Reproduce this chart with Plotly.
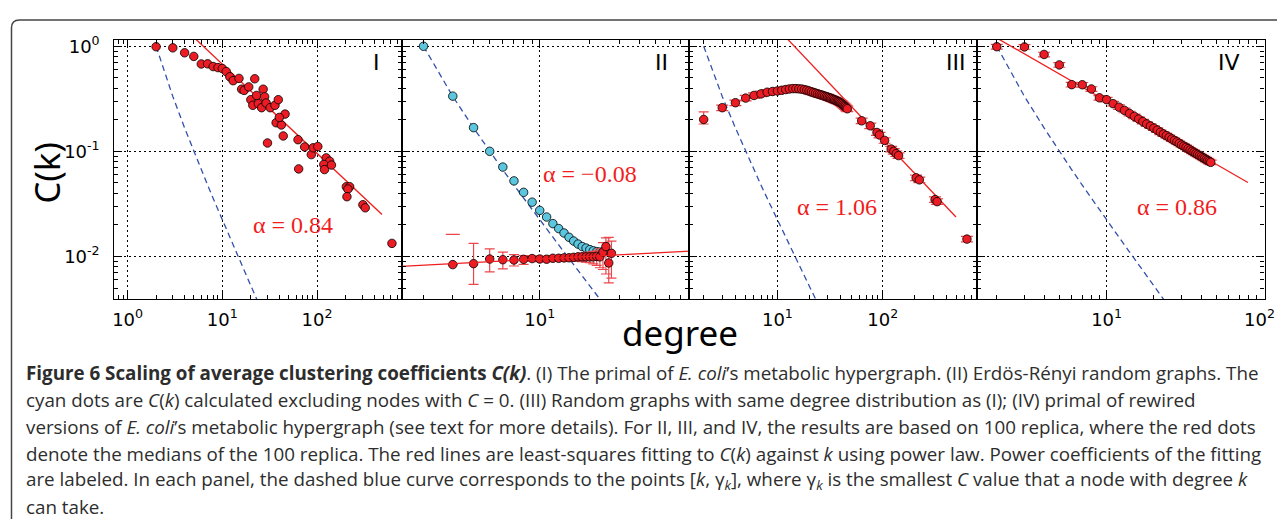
import plotly.graph_objects as go

# target picture size and the page's default body margin
W_PAGE, H_PAGE = 1285, 527
OFF = 8
W, H = W_PAGE - 2 * OFF, H_PAGE - 2 * OFF

# ---------------- data ----------------
# dashed blue curve [k, gamma_k]
gamma_k = [2, 3, 4, 5, 6, 7, 8, 10, 12, 14, 17, 20, 23, 25]
gamma_C = [1.0, 0.333, 0.167, 0.10, 0.0667, 0.0476, 0.0357, 0.0222, 0.0152, 0.011, 0.00735, 0.00526, 0.00395, 0.0033]

# Panel I : primal of E. coli metabolic hypergraph
k1 = [2, 3, 4, 5, 6, 7, 8, 9, 10, 11, 12, 13, 15, 22, 16, 17, 19, 20, 21, 23, 24, 26, 27, 28, 29,
      32, 36, 39, 37, 42, 46, 40, 44, 30, 63, 74, 87, 91, 102, 64, 125, 136, 118, 120, 142,
      204, 221, 212, 207, 305, 323, 618]
C1 = [0.99, 0.965, 0.866, 0.80, 0.678, 0.68, 0.64, 0.626, 0.613, 0.574, 0.512, 0.47, 0.494, 0.49,
      0.39, 0.38, 0.41, 0.31, 0.274, 0.34, 0.284, 0.26, 0.39, 0.33, 0.288, 0.26, 0.274, 0.31,
      0.187, 0.178, 0.226, 0.21, 0.14, 0.12, 0.129, 0.11, 0.093, 0.108, 0.111, 0.068, 0.0866,
      0.0805, 0.075, 0.067, 0.074, 0.046, 0.046, 0.0437, 0.037, 0.031, 0.029, 0.0133]
fit1_k = [4, 485]
fit1_C = [1.47, 0.025]

# Panel II : Erdos-Renyi random graphs
k2c = [2, 3, 4, 5, 6, 7, 8, 9, 10, 11, 12, 13, 14, 15, 16, 17, 18, 19, 20, 21, 22, 23, 24, 25]
C2c = [1.0, 0.335, 0.168, 0.10, 0.0708, 0.0523, 0.0407, 0.0328, 0.0274, 0.0237, 0.0205, 0.0184,
       0.0167, 0.0152, 0.0140, 0.0131, 0.0124, 0.0120, 0.0116, 0.0113, 0.0111, 0.0110, 0.0110, 0.0112]
k2r = [3, 4, 5, 6, 7, 8, 9, 10, 11, 12, 13, 14, 15, 16, 17, 18, 19, 20, 21, 22, 23, 24, 25, 26, 27]
C2r = [0.00835, 0.00853, 0.00944, 0.0093, 0.00924, 0.00938, 0.00953, 0.00944, 0.0094, 0.0096,
       0.0096, 0.00968, 0.0097, 0.0098, 0.0099, 0.0099, 0.0099, 0.0099, 0.0099, 0.0100, 0.0099,
       0.0110, 0.0124, 0.00866, 0.0107]
C2r_hi = [0.00835, 0.0133, 0.0118, 0.0110, 0.0104, 0.0102, 0.0101, 0.0100, 0.0100, 0.0102,
          0.0102, 0.0103, 0.0103, 0.0104, 0.0106, 0.0107, 0.0108, 0.0110, 0.0111, 0.0113, 0.0118,
          0.0135, 0.0150, 0.0152, 0.0140]
C2r_lo = [0.00835, 0.00542, 0.00713, 0.0076, 0.0081, 0.0084, 0.0090, 0.0089, 0.0089, 0.0090,
          0.0090, 0.0090, 0.0090, 0.0090, 0.0090, 0.0089, 0.0088, 0.0087, 0.0085, 0.0082, 0.0078,
          0.0075, 0.0068, 0.0056, 0.0062]
cap2_k = [3]
cap2_C = [0.0162]
fit2_k = [1.4, 85]
fit2_C = [0.0080, 0.0113]

# Panel III : random graphs with same degree distribution
k3 = list(range(2, 47)) + [63, 76, 88, 93, 104, 120, 127, 134, 141, 207, 222, 313, 327, 628]
C3 = [0.201, 0.260, 0.290, 0.321, 0.340, 0.352, 0.365, 0.371, 0.375, 0.381, 0.387, 0.392, 0.395,
      0.395, 0.393, 0.391, 0.386, 0.381, 0.375, 0.368, 0.362, 0.357, 0.352, 0.348, 0.344, 0.340,
      0.335, 0.331, 0.328, 0.324, 0.320, 0.316, 0.312, 0.308, 0.304, 0.300, 0.297, 0.293, 0.288,
      0.283, 0.277, 0.271, 0.266, 0.260, 0.254,
      0.195, 0.175, 0.151, 0.143, 0.127, 0.105, 0.100, 0.095, 0.091, 0.056, 0.0535, 0.0347,
      0.0332, 0.0146]
C3_first_hi = [0.237]
C3_first_lo = [0.182]
fit3_k = [10, 494]
fit3_C = [1.48, 0.0237]

# Panel IV : primal of rewired hypergraphs
k4 = list(range(2, 47))
C4 = [0.99, 0.985, 0.835, 0.664, 0.431, 0.43, 0.392, 0.323, 0.310, 0.284, 0.263, 0.245, 0.229,
      0.215, 0.203, 0.192, 0.182, 0.174, 0.166, 0.159, 0.152, 0.146, 0.141, 0.136, 0.131, 0.127,
      0.123, 0.119, 0.115, 0.112, 0.109, 0.106, 0.103, 0.100, 0.0977, 0.0954, 0.0932, 0.0910,
      0.0890, 0.0870, 0.0852, 0.0834, 0.0817, 0.0800, 0.0785]
fit4_k = [1.9, 79.3]
fit4_C = [1.25, 0.0505]

panel_names = ["I", "II", "III", "IV"]
alpha_texts = ["α = 0.84", "α = −0.08", "α = 1.06", "α = 0.86"]

x_tick_vals = [1, 10, 100]
x_tick_text = ["10<sup>0</sup>", "10<sup>1</sup>", "10<sup>2</sup>"]
edge_tick_val = 100          # last decade of panel IV, sits on the right border
edge_tick_text = "10<sup>2</sup>"
y_tick_vals = [0.01, 0.1, 1]
y_tick_text = ["10<sup>-2</sup>", "10<sup>-1</sup>", "10<sup>0</sup>"]
x_minor = [0.7, 0.8, 0.9, 2, 3, 4, 5, 6, 7, 8, 9, 20, 30, 40, 50, 60, 70, 80, 90,
           200, 300, 400, 500, 600, 700, 800, 900]
y_minor = [0.004, 0.005, 0.006, 0.007, 0.008, 0.009, 0.02, 0.03, 0.04, 0.05, 0.06, 0.07,
           0.08, 0.09, 0.2, 0.3, 0.4, 0.5, 0.6, 0.7, 0.8, 0.9]

# ---------------- styling ----------------
RED = "rgb(236,28,36)"
RED_LINE = "rgb(240,30,30)"
RED_ERR = "rgb(235,70,75)"
CYAN = "rgb(92,198,222)"
BLUE = "rgb(50,80,170)"

x_ranges = [[-0.14, 2.896], [0.171, 1.899], [0.164, 2.893], [0.175, 2.005]]
x_px = [(112.5, 400.5), (400.5, 688.3), (688.3, 976.5), (976.5, 1264.5)]
y_top_px, y_bot_px = 33, 296
y_range = [-2.406, 0.0625]


def px(xp):
    return (xp - OFF) / W


def py(yp):
    return 1 - (yp - OFF) / H


fig = go.Figure()


def ax(i):
    return ("x" if i == 0 else f"x{i+1}"), ("y" if i == 0 else f"y{i+1}")


def red_marker(size=8.5):
    return dict(size=size, color=RED, line=dict(color="black", width=0.8))


def gamma_trace(i):
    xa, ya = ax(i)
    return go.Scatter(x=gamma_k, y=gamma_C, mode="lines", xaxis=xa, yaxis=ya,
                      line=dict(color=BLUE, width=1.3, dash="6px,4px"), showlegend=False,
                      hoverinfo="skip")


def fit_trace(i, kk, cc):
    xa, ya = ax(i)
    return go.Scatter(x=kk, y=cc, mode="lines", xaxis=xa, yaxis=ya,
                      line=dict(color=RED_LINE, width=1.3), showlegend=False)


# Panel I
fig.add_trace(gamma_trace(0))
fig.add_trace(fit_trace(0, fit1_k, fit1_C))
fig.add_trace(go.Scatter(x=k1, y=C1, mode="markers", xaxis="x", yaxis="y",
                         marker=red_marker(), showlegend=False))

# Panel II
fig.add_trace(gamma_trace(1))
fig.add_trace(go.Scatter(x=k2c, y=C2c, mode="markers", xaxis="x2", yaxis="y2",
                         marker=dict(size=8.5, color=CYAN, line=dict(color="black", width=0.8)),
                         error_y=dict(type="percent", value=4, color="rgb(140,215,230)",
                                      thickness=1.2, width=4),
                         showlegend=False))
fig.add_trace(go.Scatter(x=k2r, y=C2r, mode="markers", xaxis="x2", yaxis="y2",
                         marker=red_marker(),
                         error_y=dict(type="data", symmetric=False,
                                      array=[h - c for h, c in zip(C2r_hi, C2r)],
                                      arrayminus=[c - l for c, l in zip(C2r, C2r_lo)],
                                      color=RED_ERR, thickness=1.2, width=5),
                         showlegend=False))
fig.add_trace(go.Scatter(x=cap2_k, y=cap2_C, mode="markers", xaxis="x2", yaxis="y2",
                         marker=dict(symbol="line-ew", size=10,
                                     line=dict(color=RED_ERR, width=1.2)),
                         showlegend=False))
fig.add_trace(fit_trace(1, fit2_k, fit2_C))

# Panel III
fig.add_trace(gamma_trace(2))
fig.add_trace(fit_trace(2, fit3_k, fit3_C))
fig.add_trace(go.Scatter(x=k3[1:], y=C3[1:], mode="markers", xaxis="x3", yaxis="y3",
                         marker=red_marker(),
                         error_y=dict(type="percent", value=6, color=RED_ERR, thickness=1.2, width=6),
                         showlegend=False))
fig.add_trace(go.Scatter(x=k3[:1], y=C3[:1], mode="markers", xaxis="x3", yaxis="y3",
                         marker=red_marker(),
                         error_y=dict(type="data", symmetric=False,
                                      array=[C3_first_hi[0] - C3[0]],
                                      arrayminus=[C3[0] - C3_first_lo[0]],
                                      color=RED_ERR, thickness=1.2, width=5),
                         showlegend=False))

# Panel IV
fig.add_trace(gamma_trace(3))
fig.add_trace(fit_trace(3, fit4_k, fit4_C))
fig.add_trace(go.Scatter(x=k4, y=C4, mode="markers", xaxis="x4", yaxis="y4",
                         marker=red_marker(),
                         error_y=dict(type="percent", value=5, color=RED_ERR, thickness=1.2, width=6),
                         showlegend=False))

# ---------------- axes ----------------
tickfont = dict(family="DejaVu Sans", size=18, color="black")
for i in range(4):
    xa, ya = ax(i)
    xkey = "xaxis" if i == 0 else f"xaxis{i+1}"
    ykey = "yaxis" if i == 0 else f"yaxis{i+1}"
    common = dict(showline=True, linewidth=1.2, linecolor="black", mirror="ticks",
                  ticks="inside", ticklen=8, tickwidth=1, tickcolor="black",
                  showgrid=True, gridcolor="black", griddash="2px,3px", gridwidth=1,
                  zeroline=False, tickfont=tickfont, tickmode="array")
    fig.layout[xkey] = dict(type="log", range=x_ranges[i],
                            domain=[px(x_px[i][0]), px(x_px[i][1])], anchor=ya,
                            tickvals=x_tick_vals, ticktext=x_tick_text,
                            ticklabelstandoff=4,
                            minor=dict(tickmode="array", tickvals=x_minor, ticks="inside",
                                       ticklen=4, tickwidth=1, tickcolor="black", showgrid=False),
                            **common)
    fig.layout[ykey] = dict(type="log", range=y_range,
                            domain=[py(y_bot_px), py(y_top_px)], anchor=xa,
                            tickvals=y_tick_vals, ticktext=y_tick_text,
                            showticklabels=(i == 0), ticklabelstandoff=10,
                            minor=dict(tickmode="array", tickvals=y_minor, ticks="inside",
                                       ticklen=4, tickwidth=1, tickcolor="black", showgrid=False),
                            **common)

# ---------------- annotations ----------------
ann = []
# tick label on the right border of panel IV (plotly hides it because it touches the page edge)
ann.append(dict(text=edge_tick_text, x=2.0, xref="x4", y=py(y_bot_px + 5), yref="paper",
                xanchor="center", yanchor="top", xshift=-4, showarrow=False, font=tickfont))

label_pos = [375, 661, 955, 1229]
for name, xp in zip(panel_names, label_pos):
    ann.append(dict(text=name, x=px(xp), y=py(56), xref="paper", yref="paper",
                    xanchor="center", yanchor="middle", showarrow=False,
                    font=dict(family="DejaVu Sans", size=22, color="black")))

alpha_pos = [(291.5, 220.7), (589, 169.7), (836, 203), (1176.5, 203)]
for t, (xp, yp) in zip(alpha_texts, alpha_pos):
    ann.append(dict(text=t, x=px(xp), y=py(yp), xref="paper", yref="paper",
                    xanchor="center", yanchor="middle", showarrow=False,
                    font=dict(family="Liberation Serif", size=24, color=RED_LINE)))

ann.append(dict(text="C(k)", x=px(45), y=py(168), xref="paper", yref="paper",
                textangle=-90, xanchor="center", yanchor="middle", showarrow=False,
                font=dict(family="Noto Sans", size=35, color="black")))
ann.append(dict(text="degree", x=px(679), y=py(330), xref="paper", yref="paper",
                xanchor="center", yanchor="middle", showarrow=False,
                font=dict(family="Noto Sans", size=35, color="black")))

caption_lines = [
    "<b>Figure 6 Scaling of average clustering coefficients <i>C(k)</i></b>. (I) The primal of "
    "<i>E. coli</i>’s metabolic hypergraph. (II) Erdös-Rényi random graphs. The",
    "cyan dots are <i>C</i>(<i>k</i>) calculated excluding nodes with <i>C</i> = 0. (III) Random "
    "graphs with same degree distribution as (I); (IV) primal of rewired",
    "versions of <i>E. coli</i>’s metabolic hypergraph (see text for more details). For II, III, "
    "and IV, the results are based on 100 replica, where the red dots",
    "denote the medians of the 100 replica. The red lines are least-squares fitting to "
    "<i>C</i>(<i>k</i>) against <i>k</i> using power law. Power coefficients of the fitting",
    "are labeled. In each panel, the dashed blue curve corresponds to the points "
    "[<i>k</i>, γ<sub><i>k</i></sub>], where γ<sub><i>k</i></sub> is the smallest <i>C</i> value "
    "that a node with degree <i>k</i>",
    "can take.",
]
cap_y0, cap_dy = 371, 27.2
for j, line in enumerate(caption_lines):
    ann.append(dict(text=line, x=px(22), y=py(cap_y0 + j * cap_dy), xref="paper", yref="paper",
                    xanchor="left", yanchor="middle", showarrow=False, align="left",
                    font=dict(family="Open Sans", size=18.8, color="rgb(45,45,45)")))

# frame with rounded top-left corner
fl, ft, r = 9.5, 13, 8
path = (f"M {px(fl)},{0} L {px(fl)},{py(ft + r)} "
        f"Q {px(fl)},{py(ft)} {px(fl + r)},{py(ft)} L {1},{py(ft)}")

fig.update_layout(
    width=W, height=H, margin=dict(l=0, r=0, t=0, b=0),
    paper_bgcolor="white", plot_bgcolor="white",
    annotations=ann, showlegend=False,
    shapes=[dict(type="path", path=path, xref="paper", yref="paper",
                 line=dict(color="rgb(70,70,70)", width=1.5))],
)

fig.write_html("out.html")
